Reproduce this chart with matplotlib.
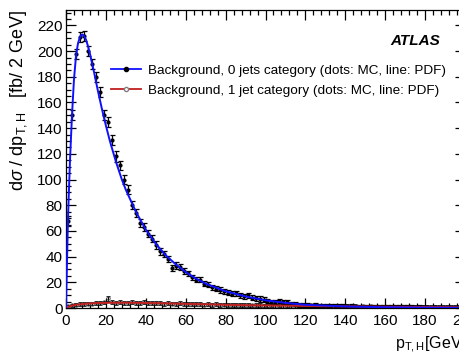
import numpy as np
import matplotlib
matplotlib.use("Agg")
import matplotlib.pyplot as plt
from matplotlib.ticker import MultipleLocator
from matplotlib.lines import Line2D

plt.rcParams['font.family'] = ['Liberation Sans', 'DejaVu Sans']
plt.rcParams['mathtext.fontset'] = 'custom'
plt.rcParams['mathtext.rm'] = 'Liberation Sans'
plt.rcParams['mathtext.it'] = 'Liberation Sans:italic'

# MC bins: 2 GeV wide, centres 1..199
bin_centres = np.arange(1, 200, 2)

mc_0jet = [68, 150, 198, 211, 212, 200, 190, 180, 168, 150,
           145, 131, 118, 111, 100, 92, 80, 74, 66, 63,
           58, 54, 49, 44, 42, 38, 31, 33, 32, 29,
           27, 24, 22, 22, 19, 18, 16, 15, 14, 13,
           12, 11, 11.5, 10, 9, 10, 8, 7.5, 7, 6.5,
           5.5, 5, 5, 5.5, 5, 4.5, 3.5, 3, 2.5, 2.5,
           2.3, 2.0, 2.2, 1.8, 1.7, 1.9, 1.5, 1.4, 1.6, 1.3,
           1.2, 1.3, 1.0, 1.1, 0.9, 1.0, 0.8, 0.9, 0.7, 0.8,
           0.7, 0.6, 0.7, 0.5, 0.6, 0.5, 0.5, 0.4, 0.5, 0.4,
           0.4, 0.3, 0.4, 0.3, 0.3, 0.3, 0.2, 0.3, 0.2, 0.2]
err_0jet = [4, 4, 4, 4, 4, 4, 4, 4, 4, 4,
            4, 4, 4, 3.5, 3.5, 3.5, 3, 3, 3, 3,
            3, 3, 3, 2.5, 2.5, 2.5, 2.5, 2.5, 2.5, 2.5,
            2, 2, 2, 2, 2, 2, 2, 2, 2, 2,
            2, 2, 2, 2, 2, 2, 2, 2, 2, 2,
            1.5, 1.5, 1.5, 1.5, 1.5, 1.5, 1.5, 1.5, 1.5, 1.5,
            1.5, 1.5, 1.5, 1.5, 1.5, 1.5, 1.5, 1.5, 1.5, 1.5,
            1.5, 1.5, 1.5, 1.5, 1.5, 1.5, 1.5, 1.5, 1.5, 1.5,
            1.5, 1.5, 1.5, 1.5, 1.5, 1.5, 1.5, 1.5, 1.5, 1.5,
            1.5, 1.5, 1.5, 1.5, 1.5, 1.5, 1.5, 1.5, 1.5, 1.5]

mc_1jet = [1.2, 2.0, 2.4, 3.0, 3.1, 3.5, 3.4, 3.9, 3.7, 4.3,
           7.5, 4.5, 4.0, 4.8, 4.2, 3.8, 4.6, 4.1, 3.9, 4.4,
           3.7, 4.0, 3.6, 3.9, 3.3, 3.8, 3.5, 3.2, 3.6, 3.0,
           3.3, 3.1, 2.8, 3.2, 2.7, 2.9, 2.6, 2.8, 2.4, 2.7,
           2.3, 2.5, 2.2, 2.6, 2.1, 2.3, 2.0, 2.2, 2.4, 1.9,
           1.9, 2.1, 1.8, 2.0, 1.7, 1.9, 1.8, 1.6, 1.8, 1.5,
           1.7, 1.6, 1.4, 1.6, 1.5, 1.3, 1.5, 1.4, 1.2, 1.4,
           1.3, 1.2, 1.3, 1.1, 1.2, 1.0, 1.2, 1.1, 1.0, 1.1,
           1.0, 0.9, 1.0, 0.9, 0.8, 0.9, 0.8, 0.9, 0.7, 0.8,
           0.8, 0.7, 0.8, 0.7, 0.6, 0.7, 0.6, 0.7, 0.6, 0.6]
err_1jet = [1.0, 1.2, 1.2, 1.3, 1.3, 1.4, 1.4, 1.5, 1.5, 1.5,
            1.8, 1.5, 1.5, 1.6, 1.5, 1.5, 1.6, 1.5, 1.5, 1.5,
            1.5, 1.5, 1.5, 1.5, 1.5, 1.5, 1.5, 1.5, 1.5, 1.5,
            1.5, 1.5, 1.5, 1.5, 1.5, 1.5, 1.5, 1.5, 1.5, 1.5,
            1.5, 1.5, 1.5, 1.5, 1.5, 1.5, 1.5, 1.5, 1.5, 1.5,
            1.5, 1.5, 1.5, 1.5, 1.5, 1.5, 1.5, 1.5, 1.5, 1.5,
            1.5, 1.5, 1.5, 1.5, 1.5, 1.5, 1.5, 1.5, 1.5, 1.5,
            1.5, 1.5, 1.5, 1.5, 1.5, 1.5, 1.5, 1.5, 1.5, 1.5,
            1.5, 1.5, 1.5, 1.5, 1.5, 1.5, 1.5, 1.5, 1.5, 1.5,
            1.5, 1.5, 1.5, 1.5, 1.5, 1.5, 1.5, 1.5, 1.5, 1.5]

# PDF curves
pdf0_x = [0, 0.5, 1, 2, 3, 4, 5, 6, 7, 8, 9, 10, 11, 12, 13, 14, 16, 18, 20, 22,
          25, 28, 30, 35, 40, 45, 50, 55, 60, 65, 70, 80, 90, 100, 110, 120,
          140, 160, 180, 200]
pdf0_y = [0, 35, 70, 115, 150, 178, 196, 206, 211, 213, 212, 209, 204, 198, 191,
          184, 169, 155, 142, 130, 114, 100, 92, 75, 61, 50, 41, 34, 28, 23, 19,
          13, 9, 6, 4, 2.5, 1.2, 0.6, 0.3, 0.15]
pdf1_x = [0, 2, 5, 10, 15, 20, 30, 40, 50, 60, 70, 80, 90, 100, 120, 140, 160, 180, 200]
pdf1_y = [0, 1.5, 2.5, 3.3, 3.8, 4.0, 4.1, 3.9, 3.6, 3.2, 2.9, 2.5, 2.2, 2.0,
          1.6, 1.3, 1.0, 0.8, 0.6]

labels = ['Background, 0 jets category (dots: MC, line: PDF)',
          'Background, 1 jet category (dots: MC, line: PDF)']

fig = plt.figure(figsize=(4.6, 3.56), dpi=100)
ax = fig.add_axes([66/460, 1-308/356, 399/460, 298/356])

blue = '#1010ff'
red = '#c02020'

ax.errorbar(bin_centres, mc_1jet, yerr=err_1jet, fmt='o', ms=2.5, mfc='none',
            mec='#404040', mew=0.6, ecolor='black', elinewidth=0.8, capsize=1.5,
            capthick=0.8, zorder=2)
ax.errorbar(bin_centres, mc_0jet, yerr=err_0jet, fmt='o', ms=2, color='black',
            ecolor='black', elinewidth=0.9, capsize=1.8, capthick=0.9, zorder=3)
ax.plot(pdf1_x, pdf1_y, color=red, lw=1.4, zorder=4)
ax.plot(pdf0_x, pdf0_y, color=blue, lw=1.4, zorder=5)

ax.set_xlim(0, 200)
ax.set_ylim(0, 232)
ax.xaxis.set_major_locator(MultipleLocator(20))
ax.xaxis.set_minor_locator(MultipleLocator(4))
ax.yaxis.set_major_locator(MultipleLocator(20))
ax.yaxis.set_minor_locator(MultipleLocator(5))
ax.tick_params(which='both', direction='in', top=True, right=True, width=0.9,
               labelsize=11)
ax.tick_params(which='major', length=7)
ax.tick_params(which='minor', length=3.5)
ax.tick_params(axis='x', pad=4)
ax.tick_params(axis='y', pad=2.5)
for s in ax.spines.values():
    s.set_linewidth(0.9)

handles = [Line2D([], [], color=blue, lw=1.3, marker='o', ms=3, mfc='black', mec='black'),
           Line2D([], [], color=red, lw=1.3, marker='o', ms=3, mfc='white', mec='#808080')]
ax.legend(handles, labels, loc='upper left', bbox_to_anchor=(0.10, 0.835),
          frameon=False, fontsize=9.7, handlelength=2.2, handletextpad=0.55,
          labelspacing=0.55, borderaxespad=0)

fig.text(440/460, 1-41/356, 'ATLAS', ha='right', va='center', fontsize=11,
         fontweight='bold', fontstyle='italic')
fig.text(19/460, 1-10/356, r'd$\sigma$ / dp$_{\mathrm{T,H}}$   [fb/ 2 GeV]',
         rotation=90, ha='center', va='top', fontsize=13)
fig.text(395/460, 1-345/356, r'p$_{\mathrm{T,H}}$[GeV]', ha='left', va='center',
         fontsize=11.5)

fig.savefig('out.png', dpi=100)
